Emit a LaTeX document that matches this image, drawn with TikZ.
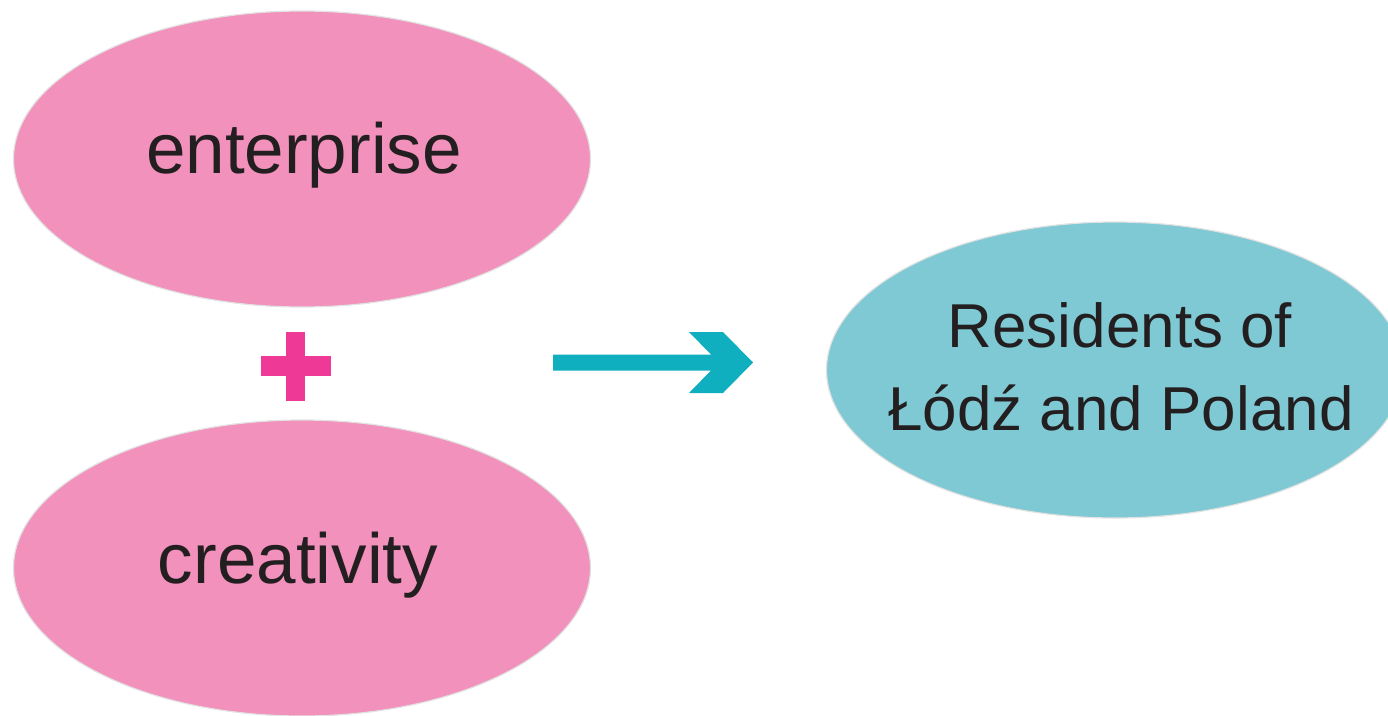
\documentclass[tikz,border=0pt]{standalone}
\usepackage{fontspec}
\setmainfont{Liberation Sans}
\usetikzlibrary{shapes.geometric}
\definecolor{pinkfill}{HTML}{F291BC}
\definecolor{tealfill}{HTML}{7EC9D4}
\definecolor{rimgray}{HTML}{E2E2E2}
\definecolor{plusmag}{HTML}{EE3A96}
\definecolor{arrowteal}{HTML}{0FAFC0}
\definecolor{inktext}{HTML}{231F20}
\begin{document}
\begin{tikzpicture}[x=1pt,y=-1pt,
  blob/.style={ellipse,draw=rimgray,line width=1.2pt,minimum width=577pt,minimum height=296pt,inner sep=0pt},
  bigword/.style={anchor=base,text=inktext,font=\fontsize{71}{83}\selectfont,inner sep=0pt},
  smallword/.style={anchor=base,text=inktext,font=\fontsize{62}{83}\selectfont,inner sep=0pt}]
\useasboundingbox (0,0) rectangle (1388,715);
\clip (0,0) rectangle (1388,715);
\fill[white] (0,0) rectangle (1388,715);
% ellipses
\node[blob,fill=pinkfill] (ent) at (302,159) {};
\node[blob,fill=pinkfill] (cre) at (302,568) {};
\node[blob,fill=tealfill] (res) at (1115,370) {};
% labels
\node[bigword] (entlbl) at (304,173) {enterprise};
\node[bigword] (crelbl) at (298,583) {creativity};
\node[smallword] (reslbl1) at (1120,347) {Residents of};
\node[smallword] (reslbl2) at (1121,430) {Łódź and Poland};
% plus sign
\fill[plusmag] (286,332) rectangle (305,401);
\fill[plusmag] (261,356) rectangle (331,376);
% arrow
\fill[arrowteal] (553,354.5) -- (711,354.5) -- (689,332) -- (723,332) -- (753,362.5)
  -- (723,393) -- (689,393) -- (711,370.5) -- (553,370.5) -- cycle;
\end{tikzpicture}
\end{document}
